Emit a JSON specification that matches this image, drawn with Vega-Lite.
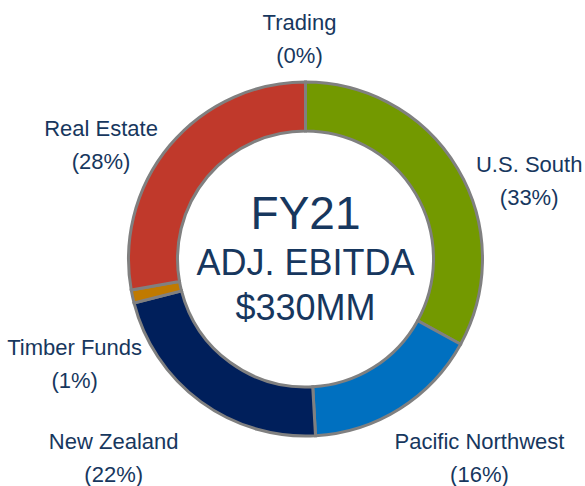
{
  "$schema": "https://vega.github.io/schema/vega-lite/v6.json",
  "width": 559,
  "height": 454,
  "autosize": {"type": "none"},
  "padding": {"left": 26, "top": 32, "right": 0, "bottom": 0},
  "background": "white",
  "view": {"stroke": null},
  "datasets": {
    "segments": [
      {"i": 1, "name": "U.S. South", "value": 33.0, "pct": "33%"},
      {"i": 2, "name": "Pacific Northwest", "value": 16.1, "pct": "16%"},
      {"i": 3, "name": "New Zealand", "value": 21.9, "pct": "22%"},
      {"i": 4, "name": "Timber Funds", "value": 1.2, "pct": "1%"},
      {"i": 5, "name": "Real Estate", "value": 27.8, "pct": "28%"},
      {"i": 6, "name": "Trading", "value": 0, "pct": "0%"}
    ],
    "center": [
      {"line": 1, "text": "FY21"},
      {"line": 2, "text": "ADJ. EBITDA\n$330MM"}
    ]
  },
  "layer": [
    {
      "data": {"name": "segments"},
      "mark": {"type": "arc", "innerRadius": 128, "outerRadius": 177, "stroke": "#808080", "strokeWidth": 3},
      "encoding": {
        "theta": {"field": "value", "type": "quantitative", "stack": true},
        "order": {"field": "i", "type": "quantitative"},
        "color": {
          "field": "name",
          "type": "nominal",
          "legend": null,
          "scale": {
            "domain": ["U.S. South", "Pacific Northwest", "New Zealand", "Timber Funds", "Real Estate", "Trading"],
            "range": ["#739900", "#0070C0", "#001F5B", "#C07A00", "#C0392B", "#808080"]
          }
        }
      }
    },
    {
      "data": {"name": "segments"},
      "transform": [
        {"calculate": "datum.name + '\\n(' + datum.pct + ')'", "as": "label"}
      ],
      "mark": {
        "type": "text",
        "radius": 225,
        "font": "Liberation Sans",
        "fontSize": 22,
        "color": "#17375E",
        "align": "center",
        "baseline": "alphabetic",
        "lineBreak": "\n",
        "lineHeight": 33,
        "dx": {"expr": "datum.name==='U.S. South'?30:datum.name==='Pacific Northwest'?54:datum.name==='New Zealand'?-59:datum.name==='Timber Funds'?-11:datum.name==='Real Estate'?-32:-6"},
        "dy": {"expr": "datum.name==='U.S. South'?28:datum.name==='Pacific Northwest'?0:datum.name==='New Zealand'?8:datum.name==='Timber Funds'?48:datum.name==='Real Estate'?22:-4"}
      },
      "encoding": {
        "theta": {"field": "value", "type": "quantitative", "stack": true},
        "order": {"field": "i", "type": "quantitative"},
        "text": {"field": "label", "type": "nominal"}
      }
    },
    {
      "data": {"name": "center"},
      "transform": [{"filter": "datum.line === 1"}],
      "mark": {"type": "text", "font": "Liberation Sans", "fontSize": 46, "color": "#17375E", "align": "center", "baseline": "alphabetic", "dy": -30},
      "encoding": {
        "text": {"field": "text", "type": "nominal"}
      }
    },
    {
      "data": {"name": "center"},
      "transform": [{"filter": "datum.line === 2"}],
      "mark": {"type": "text", "font": "Liberation Sans", "fontSize": 36, "color": "#17375E", "align": "center", "baseline": "alphabetic", "dy": 16, "lineBreak": "\n", "lineHeight": 45},
      "encoding": {
        "text": {"field": "text", "type": "nominal"}
      }
    }
  ]
}
